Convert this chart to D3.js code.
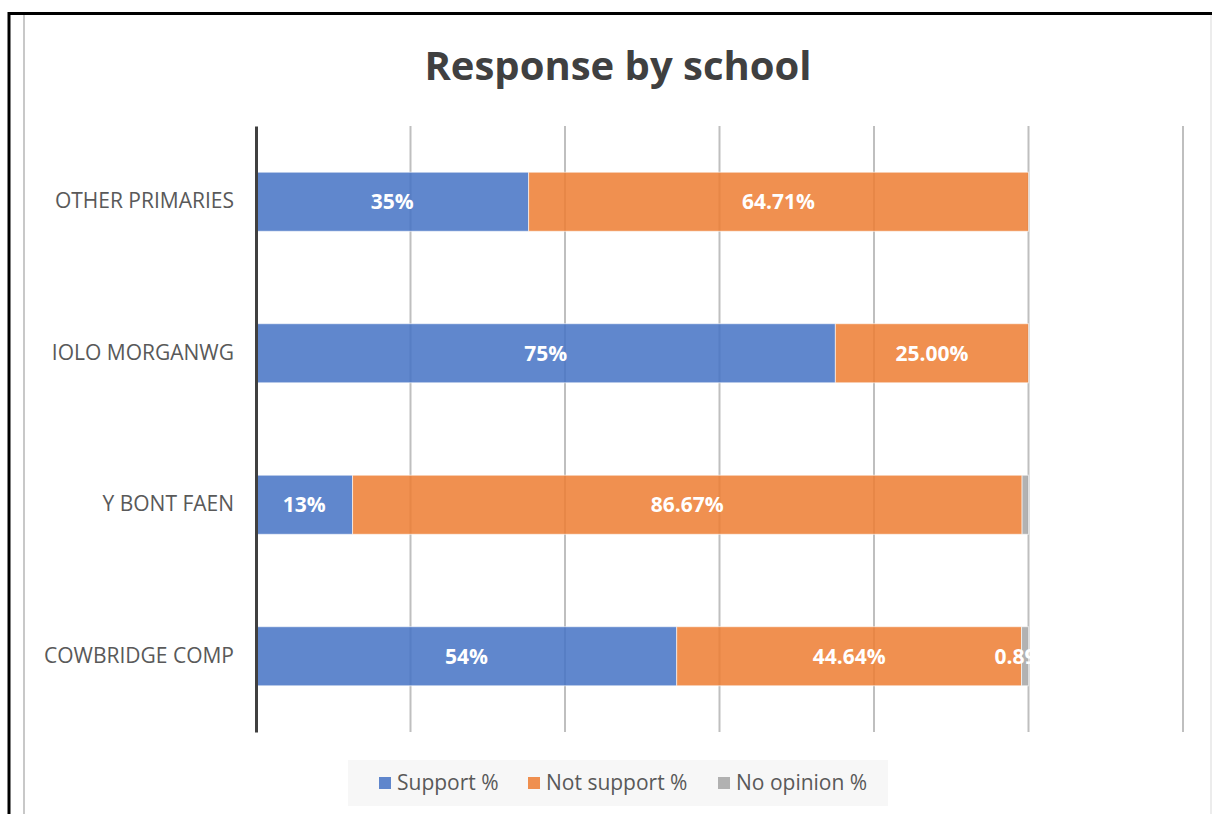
<!DOCTYPE html>
<html>
<head>
<meta charset="utf-8">
<script src="https://cdn.jsdelivr.net/npm/d3@7"></script>
<style>
  body { margin: 0; background: #fff; }
  svg { display: block; }
</style>
</head>
<body>
<svg></svg>
<script>
// Chart data, top row first
const schools = ['OTHER PRIMARIES', 'IOLO MORGANWG', 'Y BONT FAEN', 'COWBRIDGE COMP']
const support = [0.3529, 0.75, 0.125, 0.5446]
const notSupport = [0.6471, 0.25, 0.8667, 0.4464]
const noOpinion = [0, 0, 0.0083, 0.0089]
const showLabel = {
    support: [true, true, true, true],
    notSupport: [true, true, true, true],
    noOpinion: [false, false, false, true]
}
const seriesNames = ['Support %', 'Not support %', 'No opinion %']
const xTicks = [0, 0.2, 0.4, 0.6, 0.8, 1.0, 1.2]

const width = 1212
const height = 814
const colors = ['#4472C4', '#ED7D31', '#A5A5A5']
const fontFam = "'Open Sans', 'Liberation Sans', sans-serif"

const svg = d3.select('svg')
    .attr('width', width)
    .attr('height', height)

// frame
svg.append('rect')
    .attr('x', 9).attr('y', 13.5)
    .attr('width', 1220).attr('height', 900)
    .attr('fill', 'none')
    .attr('stroke', '#000')
    .attr('stroke-width', 3)
svg.append('line')
    .attr('x1', 24).attr('x2', 24).attr('y1', 15).attr('y2', height)
    .attr('stroke', '#c8c8c8').attr('stroke-width', 2)
svg.append('line')
    .attr('x1', 1211).attr('x2', 1211).attr('y1', 15).attr('y2', height)
    .attr('stroke', '#d9d9d9').attr('stroke-width', 1)

// title
svg.append('text')
    .attr('x', 618).attr('y', 80)
    .attr('text-anchor', 'middle')
    .attr('font-family', fontFam)
    .attr('font-weight', 'bold')
    .attr('font-size', 40)
    .attr('fill', '#404040')
    .text('Response by school')

// scales
const xScale = d3.scaleLinear()
    .domain([0, 1.2])
    .range([256, 1183])

const yScale = d3.scaleBand()
    .domain(schools)
    .range([126, 732])
    .paddingInner(0.61)
    .paddingOuter(0.305)

// gridlines
svg.append('g')
    .selectAll('line')
    .data(xTicks.slice(1))
    .enter()
    .append('line')
    .attr('x1', d => xScale(d)).attr('x2', d => xScale(d))
    .attr('y1', 126).attr('y2', 732)
    .attr('stroke', '#bfbfbf')
    .attr('stroke-width', 2)

// stack
const rows = schools.map((s, i) => ({
    school: s,
    support: support[i],
    notSupport: notSupport[i],
    noOpinion: noOpinion[i],
    idx: i
}))
const keys = ['support', 'notSupport', 'noOpinion']
const stacked = d3.stack().keys(keys)(rows)

const fmt = {
    support: d3.format('.0%'),
    notSupport: d3.format('.2%'),
    noOpinion: d3.format('.2%')
}

const layers = svg.append('g')
    .selectAll('g')
    .data(stacked)
    .enter()
    .append('g')
    .attr('fill', (d, i) => colors[i])

layers.selectAll('rect')
    .data(d => d)
    .enter()
    .append('rect')
    .attr('x', d => xScale(d[0]))
    .attr('y', d => yScale(d.data.school))
    .attr('width', d => xScale(d[1]) - xScale(d[0]))
    .attr('height', yScale.bandwidth())
    .attr('fill-opacity', 0.85)
    .attr('stroke', '#fff')
    .attr('stroke-opacity', 0.6)
    .attr('stroke-width', 1)

// data labels
stacked.forEach(layer => {
    svg.append('g')
        .selectAll('text')
        .data(layer.filter(d => showLabel[layer.key][d.data.idx]))
        .enter()
        .append('text')
        .attr('x', d => (xScale(d[0]) + xScale(d[1])) / 2)
        .attr('y', d => yScale(d.data.school) + yScale.bandwidth() / 2)
        .attr('dy', '0.35em')
        .attr('text-anchor', 'middle')
        .attr('font-family', fontFam)
        .attr('font-weight', 'bold')
        .attr('font-size', 21)
        .attr('fill', '#fff')
        .text(d => fmt[layer.key](d.data[layer.key]))
})

// category axis
const yAxis = d3.axisLeft(yScale).tickSize(0).tickPadding(22)
const yAxisG = svg.append('g')
    .attr('transform', 'translate(256, 0)')
    .call(yAxis)
yAxisG.select('.domain')
    .attr('stroke', '#404040')
    .attr('stroke-width', 3)
yAxisG.selectAll('text')
    .attr('font-family', fontFam)
    .attr('font-size', 21)
    .attr('fill', '#595959')

// legend
const legend = svg.append('g')
legend.append('rect')
    .attr('x', 348).attr('y', 760)
    .attr('width', 540).attr('height', 46)
    .attr('fill', '#f7f7f7')
const legendX = [379, 528, 718]
seriesNames.forEach((name, i) => {
    legend.append('rect')
        .attr('x', legendX[i]).attr('y', 777)
        .attr('width', 12).attr('height', 12)
        .attr('fill', colors[i])
        .attr('fill-opacity', 0.85)
    legend.append('text')
        .attr('x', legendX[i] + 18).attr('y', 783)
        .attr('dy', '0.35em')
        .attr('font-family', fontFam)
        .attr('font-size', 21)
        .attr('fill', '#595959')
        .text(name)
})
</script>
</body>
</html>
